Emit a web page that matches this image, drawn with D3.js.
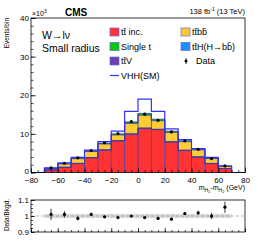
<!DOCTYPE html>
<html><head><meta charset="utf-8">
<script src="https://cdn.jsdelivr.net/npm/d3@7"></script>
<style>body{margin:0;background:#fff}svg{display:block;font-family:"Liberation Sans",Arial,Helvetica,sans-serif}</style>
</head><body><svg id="c" width="258" height="243"></svg>
<script>
// ---- data (values in 10^3 events) ----
const binEdgesLo = [-70,-60,-50,-40,-30,-20,-10,0,10,20,30,40,50,60];
const binWidth = 10;
const ttInc   = [0.65,1.3,2.3,3.8,5.8,8.2,9.9,11.4,11.1,7.9,5.7,4.0,2.3,1.0];
const ttV     = [0.03,0.04,0.04,0.04,0.04,0.03,0.05,0.06,0.05,0.04,0.04,0.03,0.03,0.02];
const ttH     = [0.02,0.03,0.04,0.04,0.04,0.04,0.05,0.06,0.05,0.04,0.04,0.03,0.03,0.02];
const ttbb    = [0.35,0.85,1.2,1.55,1.5,1.45,2.7,3.3,2.2,2.4,2.2,1.8,1.25,0.5];
const singleT = [0.05,0.08,0.12,0.17,0.22,0.28,0.40,0.48,0.40,0.32,0.22,0.14,0.09,0.06];
const vhh     = [1.2,2.5,3.9,5.8,8.0,10.7,15.8,19.0,15.8,11.3,8.5,6.2,3.9,1.75];
const dataVal = [1.2,2.4,3.8,5.7,7.7,10.1,13.2,15.1,13.5,10.5,8.2,6.0,3.6,1.7];
const ratio    = [1.01,1.01,0.985,1.01,0.995,0.99,1.0,0.99,0.985,0.98,1.015,1.02,1.0,1.055];
const ratioErr = [0.035,0.02,0.012,0.01,0.008,0.007,0.006,0.006,0.006,0.007,0.009,0.012,0.02,0.035];
const xTicks = [-80,-60,-40,-20,0,20,40,60,80];
const yTicks = [0,10,20,30,40];
const rTicks = [0.9,1,1.1];
const layers = [
  {name:"tt̄ inc.", vals:ttInc, color:"#ff3333"},
  {name:"tt̄V", vals:ttV, color:"#6a3fb0"},
  {name:"tt̄H(H→bb̄)", vals:ttH, color:"#1f8fff"},
  {name:"tt̄bb̄", vals:ttbb, color:"#ffcc33"},
  {name:"Single t", vals:singleT, color:"#00cc00"}
];

const svg = d3.select("#c");
const L=31, R=245, T=18, B=172.5, RT=200, RB=232;
const x = d3.scaleLinear().domain([-80,80]).range([L,R]);
const y = d3.scaleLinear().domain([0,40]).range([B,T]);
const yr = d3.scaleLinear().domain([0.9,1.1]).range([RB,RT]);
const outline = "#3a3aa8";

// stacked bars
const cum = binEdgesLo.map(()=>0);
const gS = svg.append("g");
layers.forEach(l=>{
  binEdgesLo.forEach((lo,i)=>{
    const y0=cum[i], y1=cum[i]+l.vals[i];
    gS.append("rect").attr("x",x(lo)).attr("width",x(lo+binWidth)-x(lo))
      .attr("y",y(y1)).attr("height",y(y0)-y(y1)).attr("fill",l.color);
    cum[i]=y1;
  });
});
// layer outlines as steps
const cum2 = binEdgesLo.map(()=>0);
layers.forEach(l=>{
  const pts=[];
  binEdgesLo.forEach((lo,i)=>{cum2[i]+=l.vals[i]; pts.push([x(lo),y(cum2[i])],[x(lo+binWidth),y(cum2[i])]);});
  svg.append("path").attr("d",d3.line()(pts)).attr("fill","none").attr("stroke",outline).attr("stroke-width",0.8);
});
// side edges of stack
binEdgesLo.forEach((lo,i)=>{
  const pr = i>0?cum2[i-1]:0;
  svg.append("line").attr("x1",x(lo)).attr("x2",x(lo)).attr("y1",y(0)).attr("y2",y(Math.max(pr,cum2[i]))).attr("stroke",outline).attr("stroke-width",0.8);
});
svg.append("line").attr("x1",x(70)).attr("x2",x(70)).attr("y1",y(0)).attr("y2",y(cum2[13])).attr("stroke",outline).attr("stroke-width",0.8);

// VHH step line
const vp=[[x(-80),y(0)],[x(-70),y(0)]];
binEdgesLo.forEach((lo,i)=>{vp.push([x(lo),y(vhh[i])],[x(lo+binWidth),y(vhh[i])]);});
vp.push([x(70),y(0)],[x(80),y(0)]);
svg.append("path").attr("d",d3.line()(vp)).attr("fill","none").attr("stroke","#3333ff").attr("stroke-width",1.2);

// data points
binEdgesLo.forEach((lo,i)=>{
  svg.append("circle").attr("cx",x(lo+binWidth/2)).attr("cy",y(dataVal[i])).attr("r",1.6).attr("fill","#000");
});

// frames
svg.append("rect").attr("x",L).attr("y",T).attr("width",R-L).attr("height",B-T).attr("fill","none").attr("stroke","#000").attr("stroke-width",0.8);
svg.append("rect").attr("x",L).attr("y",RT).attr("width",R-L).attr("height",RB-RT).attr("fill","none").attr("stroke","#000").attr("stroke-width",0.8);

function styleAxis(g){g.select(".domain").remove();g.selectAll("line").attr("stroke","#000").attr("stroke-width",0.7);g.selectAll("text").attr("font-size","8px").attr("fill","#000").attr("font-family","Liberation Sans, Arial, sans-serif");}

// main axes
svg.append("g").attr("transform",`translate(0,${B})`).call(d3.axisBottom(x).tickValues(d3.range(-80,81,5)).tickSize(-2.5).tickFormat("")).call(styleAxis);
svg.append("g").attr("transform",`translate(0,${B})`).call(d3.axisBottom(x).tickValues(xTicks).tickSize(-5).tickPadding(4.5).tickFormat(d3.format("d"))).call(styleAxis);
svg.append("g").attr("transform",`translate(${L},0)`).call(d3.axisLeft(y).tickValues(d3.range(0,41,2)).tickSize(-2.5).tickFormat("")).call(styleAxis);
const yAx = svg.append("g").attr("transform",`translate(${L},0)`).call(d3.axisLeft(y).tickValues(yTicks).tickSize(-5).tickPadding(2).tickFormat(d3.format("d"))).call(styleAxis);
yAx.selectAll("text").filter(d=>d===0).attr("dy","0.1em");

// ratio panel
svg.append("rect").attr("x",x(-70)).attr("width",x(70)-x(-70)).attr("y",yr(1.013)).attr("height",yr(0.987)-yr(1.013)).attr("fill","#d9d9d9");
svg.append("line").attr("x1",L).attr("x2",R).attr("y1",yr(1)).attr("y2",yr(1)).attr("stroke","#888").attr("stroke-width",0.6).attr("stroke-dasharray","3,2");
binEdgesLo.forEach((lo,i)=>{
  const cx=x(lo+binWidth/2);
  svg.append("line").attr("x1",cx).attr("x2",cx).attr("y1",yr(ratio[i]-ratioErr[i])).attr("y2",yr(ratio[i]+ratioErr[i])).attr("stroke","#000").attr("stroke-width",0.8);
  svg.append("circle").attr("cx",cx).attr("cy",yr(ratio[i])).attr("r",1.6).attr("fill","#000");
});
svg.append("g").attr("transform",`translate(0,${RB})`).call(d3.axisBottom(x).tickValues(d3.range(-80,81,5)).tickSize(-2).tickFormat("")).call(styleAxis);
svg.append("g").attr("transform",`translate(0,${RB})`).call(d3.axisBottom(x).tickValues(xTicks).tickSize(-4).tickFormat("")).call(styleAxis);
svg.append("g").attr("transform",`translate(${L},0)`).call(d3.axisLeft(yr).tickValues(d3.range(0.9,1.101,0.025)).tickSize(-2).tickFormat("")).call(styleAxis);
svg.append("g").attr("transform",`translate(${L},0)`).call(d3.axisLeft(yr).tickValues(rTicks).tickSize(-4).tickPadding(2).tickFormat(d=>d===1?"1":d3.format(".1f")(d))).call(styleAxis);

// texts
svg.append("text").attr("transform","translate(9,18) rotate(-90)").attr("text-anchor","end").attr("font-size","6.5px").text("Events/bin");
svg.append("text").attr("transform","translate(9,215) rotate(-90)").attr("text-anchor","middle").attr("font-size","6.5px").text("Data/Bkgd.");
const t10=svg.append("text").attr("x",32).attr("y",16).attr("font-size","7px");
t10.append("tspan").text("×10");t10.append("tspan").attr("dy",-3).attr("font-size","5px").text("3");
svg.append("text").attr("x",65).attr("y",16).attr("font-size","10px").attr("font-weight","bold").text("CMS");
const lum=svg.append("text").attr("x",R).attr("y",14).attr("text-anchor","end").attr("font-size","7.5px");
lum.append("tspan").text("138 fb");lum.append("tspan").attr("dy",-3).attr("font-size","5px").text("-1");lum.append("tspan").attr("dy",3).text(" (13 TeV)");
svg.append("text").attr("x",42).attr("y",39).attr("font-size","10.5px").text("W→lν");
svg.append("text").attr("x",42).attr("y",52).attr("font-size","10.5px").text("Small radius");
const xl=svg.append("text").attr("x",R).attr("y",190).attr("text-anchor","end").attr("font-size","7px");
xl.append("tspan").text("m");xl.append("tspan").attr("dy",2).attr("font-size","5px").text("H");xl.append("tspan").attr("dy",1).attr("font-size","4px").text("1");
xl.append("tspan").attr("dy",-3).text("-m");xl.append("tspan").attr("dy",2).attr("font-size","5px").text("H");xl.append("tspan").attr("dy",1).attr("font-size","4px").text("2");
xl.append("tspan").attr("dy",-3).text(" (GeV)");

// legend
const leg = [
  {n:"tt̄ inc.", c:"#ff3333", col:0,row:0},
  {n:"tt̄bb̄", c:"#ffcc33", col:1,row:0},
  {n:"Single t", c:"#00cc00", col:0,row:1},
  {n:"tt̄H(H→bb̄)", c:"#1f8fff", col:1,row:1},
  {n:"tt̄V", c:"#6a3fb0", col:0,row:2},
  {n:"Data", c:null, col:1,row:2, data:true},
  {n:"VHH(SM)", c:null, col:0,row:3, line:true}
];
const colX=[110,181], rowY=[32,46.5,61,75.5];
leg.forEach(e=>{
  const lx=colX[e.col], ly=rowY[e.row];
  if(e.data){
    svg.append("line").attr("x1",lx+5).attr("x2",lx+5).attr("y1",ly-3).attr("y2",ly+3).attr("stroke","#000").attr("stroke-width",0.8);
    svg.append("circle").attr("cx",lx+5).attr("cy",ly).attr("r",1.5).attr("fill","#000");
  } else if(e.line){
    svg.append("line").attr("x1",lx).attr("x2",lx+9).attr("y1",ly).attr("y2",ly).attr("stroke","#3333ff").attr("stroke-width",1.2);
  } else {
    svg.append("rect").attr("x",lx).attr("y",ly-4).attr("width",9).attr("height",8).attr("fill",e.c).attr("stroke","#6a6ad0").attr("stroke-width",0.7);
  }
  svg.append("text").attr("x",lx+(e.data?15:11)).attr("y",ly+3.2).attr("font-size","9px").text(e.n);
});
</script></body></html>
